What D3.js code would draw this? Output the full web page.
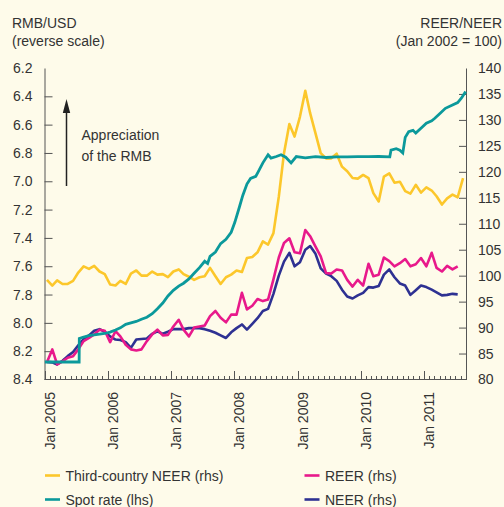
<!DOCTYPE html>
<html>
<head>
<meta charset="utf-8">
<script src="https://cdn.jsdelivr.net/npm/d3@7"></script>
<style>
  html, body { margin: 0; padding: 0; background: #fefbea; }
  svg { display: block; }
  text { font-family: "Liberation Sans", Arial, Helvetica, sans-serif; fill: #333; }
</style>
</head>
<body>
<div id="chart"></div>
<script>
'use strict';

// monthly series, Jan 2005 onwards (rhs, Jan 2002 = 100)
var thirdCountryNeer = [
  99.2, 98.1, 99.1, 98.4, 98.4, 99.0, 100.6, 101.8, 101.3, 101.9, 100.8, 100.3,
  98.3, 98.1, 99.0, 98.4, 100.4, 101.0, 100.0, 100.0, 100.8, 100.2, 100.3, 99.7,
  100.8, 101.2, 100.3, 99.8, 99.2, 99.7, 99.9, 101.5, 99.9, 98.4, 99.7, 100.2,
  101.0, 100.7, 103.4, 103.6, 104.5, 106.6, 106.0, 108.2, 115.2, 123.6, 129.2, 126.8,
  130.6, 135.6, 131.3, 127.4, 123.6, 122.6, 122.6, 123.5, 121.0, 120.1, 118.8, 118.7,
  119.4, 118.8, 115.9, 114.3, 119.1, 119.7, 117.9, 118.1, 116.3, 115.8, 117.5, 116.0,
  117.0, 116.4, 115.3, 113.7, 114.9, 115.6, 115.1, 118.8
];

var reer = [
  83.3, 85.8, 82.9, 83.5, 84.2, 84.5, 85.8, 87.4, 88.0, 88.7, 89.6, 89.4,
  87.2, 89.3, 88.3, 86.7, 85.8, 85.6, 85.8, 87.4, 88.7, 89.6, 88.5, 88.6,
  90.2, 91.5, 89.6, 88.3, 90.0, 90.2, 90.4, 92.2, 93.2, 91.9, 91.0, 92.5,
  92.5, 96.7, 93.5, 94.2, 95.5, 95.1, 95.4, 99.3, 103.5, 106.3, 107.2, 104.5,
  104.3, 108.8, 107.6, 105.6, 103.7, 100.5, 100.4, 101.2, 101.0, 99.2, 97.9, 99.2,
  98.1, 102.3, 99.9, 100.2, 103.5, 102.8, 101.8, 102.4, 103.2, 101.8, 102.2, 103.4,
  101.8, 104.4, 101.5, 100.8, 101.9, 101.2, 101.8
];

var neer = [
  83.4, 83.3, 82.9, 83.6, 84.5, 85.3, 86.6, 87.8, 88.5, 89.4, 89.7, 89.2,
  88.3, 87.7, 87.6, 87.2, 86.1, 87.7, 87.8, 87.9, 88.8, 89.3, 88.8, 89.2,
  89.7, 89.7, 89.7, 89.9, 89.9, 89.9, 89.7, 89.4, 89.0, 88.5, 88.0, 89.1,
  89.9, 90.6, 89.6, 90.7, 91.8, 93.2, 93.6, 96.5, 100.0, 102.7, 104.4, 101.8,
  102.6, 105.0, 105.7, 104.2, 101.4, 100.4, 99.9, 99.0, 97.3, 96.0, 95.6, 96.2,
  96.7, 97.8, 97.7, 98.0, 100.2, 101.2, 99.7, 98.5, 98.1, 96.3, 97.2, 98.1,
  97.8, 97.3, 96.8, 96.2, 96.3, 96.5, 96.4
];

// RMB per USD (lhs, reverse scale)
var spotRate = [
  ['2005-01-03', 8.2765], ['2005-07-20', 8.2765], ['2005-07-21', 8.11], ['2005-08-15', 8.10],
  ['2005-09-15', 8.09], ['2005-10-15', 8.085], ['2005-11-15', 8.08], ['2005-12-15', 8.075],
  ['2006-01-15', 8.065], ['2006-02-15', 8.05], ['2006-03-15', 8.035], ['2006-04-15', 8.01],
  ['2006-05-15', 8.0], ['2006-06-15', 7.99], ['2006-07-15', 7.975], ['2006-08-15', 7.96],
  ['2006-09-15', 7.935], ['2006-10-15', 7.90], ['2006-11-15', 7.86], ['2006-12-15', 7.81],
  ['2007-01-15', 7.77], ['2007-02-15', 7.74], ['2007-03-15', 7.72], ['2007-04-15', 7.69],
  ['2007-05-15', 7.65], ['2007-06-15', 7.61], ['2007-07-15', 7.565], ['2007-08-01', 7.58],
  ['2007-08-15', 7.53], ['2007-09-15', 7.50], ['2007-10-15', 7.44], ['2007-11-15', 7.41],
  ['2007-12-15', 7.36], ['2008-01-05', 7.29], ['2008-02-01', 7.18], ['2008-02-20', 7.10],
  ['2008-03-15', 7.02], ['2008-04-05', 6.98], ['2008-05-05', 6.965], ['2008-05-25', 6.92],
  ['2008-06-15', 6.87], ['2008-07-15', 6.813], ['2008-08-01', 6.836], ['2008-09-01', 6.825],
  ['2008-09-28', 6.813], ['2008-10-25', 6.83], ['2008-11-25', 6.87], ['2008-12-25', 6.825],
  ['2009-02-15', 6.835], ['2009-04-15', 6.826], ['2009-06-15', 6.832], ['2009-08-15', 6.828],
  ['2009-10-15', 6.827], ['2009-12-15', 6.826], ['2010-02-15', 6.826], ['2010-04-15', 6.825],
  ['2010-06-18', 6.827], ['2010-06-25', 6.78], ['2010-07-25', 6.77], ['2010-08-15', 6.78],
  ['2010-09-01', 6.80], ['2010-09-15', 6.69], ['2010-10-05', 6.65], ['2010-10-30', 6.64],
  ['2010-11-15', 6.66], ['2010-12-15', 6.625], ['2011-01-15', 6.59], ['2011-02-15', 6.573],
  ['2011-03-05', 6.555], ['2011-04-05', 6.52], ['2011-05-05', 6.485], ['2011-06-15', 6.461],
  ['2011-07-15', 6.444], ['2011-08-05', 6.413], ['2011-08-30', 6.367]
];

var lhsTicks = [6.2, 6.4, 6.6, 6.8, 7.0, 7.2, 7.4, 7.6, 7.8, 8.0, 8.2, 8.4];
var rhsTicks = [140, 135, 130, 125, 120, 115, 110, 105, 100, 95, 90, 85, 80];
var yearTicks = [2005, 2006, 2007, 2008, 2009, 2010, 2011];

var legendItems = [
  { label: 'Third-country NEER (rhs)', color: '#fcc72b', col: 0, row: 0 },
  { label: 'REER (rhs)', color: '#e8198b', col: 1, row: 0 },
  { label: 'Spot rate (lhs)', color: '#0b999b', col: 0, row: 1 },
  { label: 'NEER (rhs)', color: '#2e3192', col: 1, row: 1 }
];

(function () {
  var W = 504, H = 507;
  var plotLeft = 44.5, plotRight = 466, plotTop = 68, plotBottom = 379.5;

  var svg = d3.select('#chart').append('svg')
    .attr('width', W)
    .attr('height', H);

  svg.append('rect').attr('width', W).attr('height', H).attr('fill', '#fefbea');

  var x = d3.scaleTime()
    .domain([new Date(2005, 0, 1), new Date(2011, 8, 1)])
    .range([plotLeft, plotRight]);
  var yL = d3.scaleLinear().domain([6.2, 8.4]).range([plotTop, plotBottom]);
  var yR = d3.scaleLinear().domain([140, 80]).range([plotTop, plotBottom]);

  function monthDate(i) { return new Date(2005, i, 15); }
  var parse = d3.timeParse('%Y-%m-%d');

  // axes
  var axisColor = '#555';

  var gl = svg.append('g')
    .attr('transform', 'translate(' + plotLeft + ',0)')
    .call(d3.axisLeft(yL).tickValues(lhsTicks).tickSize(-8).tickSizeOuter(0)
      .tickPadding(12).tickFormat(d3.format('.1f')));
  gl.selectAll('.tick line').filter(function (d) { return d === 6.2 || d === 8.4; }).remove();

  var gr = svg.append('g')
    .attr('transform', 'translate(' + plotRight + ',0)')
    .call(d3.axisRight(yR).tickValues(rhsTicks).tickSize(-7).tickSizeOuter(0).tickPadding(12));
  gr.selectAll('.tick line').filter(function (d) { return d === 140 || d === 80; }).remove();

  [gl, gr].forEach(function (g) {
    g.select('.domain').attr('stroke', axisColor);
    g.selectAll('.tick line').attr('stroke', axisColor);
    g.selectAll('text').attr('font-size', 14).attr('fill', '#333')
      .attr('font-family', '"Liberation Sans", Arial, sans-serif');
  });

  var gx = svg.append('g').attr('class', 'x-axis');
  gx.append('line')
    .attr('x1', plotLeft).attr('x2', plotRight)
    .attr('y1', plotBottom).attr('y2', plotBottom)
    .attr('stroke', axisColor);

  var months = d3.timeMonth.range(new Date(2005, 1, 1), new Date(2011, 8, 2));
  gx.selectAll('line.minor')
    .data(months.filter(function (d) { return d.getMonth() !== 0; }))
    .join('line')
    .attr('class', 'minor')
    .attr('x1', function (d) { return Math.round(x(d)) + 0.5; })
    .attr('x2', function (d) { return Math.round(x(d)) + 0.5; })
    .attr('y1', plotBottom)
    .attr('y2', plotBottom - 3.5)
    .attr('stroke', axisColor);

  gx.selectAll('line.major')
    .data(yearTicks)
    .join('line')
    .attr('class', 'major')
    .attr('x1', function (d) { return Math.round(x(new Date(d, 0, 1))) + 0.5; })
    .attr('x2', function (d) { return Math.round(x(new Date(d, 0, 1))) + 0.5; })
    .attr('y1', plotBottom)
    .attr('y2', plotBottom - 8.5)
    .attr('stroke', axisColor);

  gx.selectAll('text')
    .data(yearTicks)
    .join('text')
    .attr('transform', function (d) {
      return 'translate(' + (x(new Date(d, 0, 1)) + 10) + ',392) rotate(-90)';
    })
    .attr('text-anchor', 'end')
    .attr('font-size', 14)
    .text(function (d) { return 'Jan ' + d; });

  // axis titles
  svg.append('text').attr('x', 12).attr('y', 28).attr('font-size', 14).text('RMB/USD');
  svg.append('text').attr('x', 12).attr('y', 46).attr('font-size', 14).text('(reverse scale)');
  svg.append('text').attr('x', 502).attr('y', 28).attr('font-size', 14)
    .attr('text-anchor', 'end').text('REER/NEER');
  svg.append('text').attr('x', 502).attr('y', 46).attr('font-size', 14)
    .attr('text-anchor', 'end').text('(Jan 2002 = 100)');

  // appreciation arrow
  svg.append('line')
    .attr('x1', 66.5).attr('x2', 66.5)
    .attr('y1', 186).attr('y2', 110)
    .attr('stroke', '#222').attr('stroke-width', 1.5);
  svg.append('path')
    .attr('d', 'M66.5,99 L62.8,113 L70.2,113 Z')
    .attr('fill', '#222');
  svg.append('text').attr('x', 81.5).attr('y', 140).attr('font-size', 14).text('Appreciation');
  svg.append('text').attr('x', 81.5).attr('y', 161).attr('font-size', 14).text('of the RMB');

  // series
  var lineR = d3.line()
    .x(function (d, i) { return x(monthDate(i)); })
    .y(function (d) { return yR(d); });
  var lineSpot = d3.line()
    .x(function (d) { return x(parse(d[0])); })
    .y(function (d) { return yL(d[1]); });

  var plot = svg.append('g')
    .attr('fill', 'none')
    .attr('stroke-width', 2.6)
    .attr('stroke-linejoin', 'round')
    .attr('stroke-linecap', 'butt');

  plot.append('path').datum(thirdCountryNeer).attr('d', lineR).attr('stroke', legendItems[0].color);
  plot.append('path').datum(neer).attr('d', lineR).attr('stroke', legendItems[3].color);
  plot.append('path').datum(reer).attr('d', lineR).attr('stroke', legendItems[1].color);
  plot.append('path').datum(spotRate).attr('d', lineSpot).attr('stroke', legendItems[2].color)
    .attr('stroke-width', 2.8).attr('stroke-linejoin', 'miter');

  // legend
  var legend = svg.append('g');
  var lg = legend.selectAll('g')
    .data(legendItems)
    .join('g')
    .attr('transform', function (d) {
      return 'translate(' + (d.col === 0 ? 45 : 304.5) + ',' + (d.row === 0 ? 475.5 : 499.5) + ')';
    });
  lg.append('line')
    .attr('x1', 0).attr('x2', 15)
    .attr('stroke', function (d) { return d.color; })
    .attr('stroke-width', 2.6);
  lg.append('text')
    .attr('x', 20.5)
    .attr('y', 5.3)
    .attr('font-size', 14)
    .text(function (d) { return d.label; });
})();
</script>
</body>
</html>
